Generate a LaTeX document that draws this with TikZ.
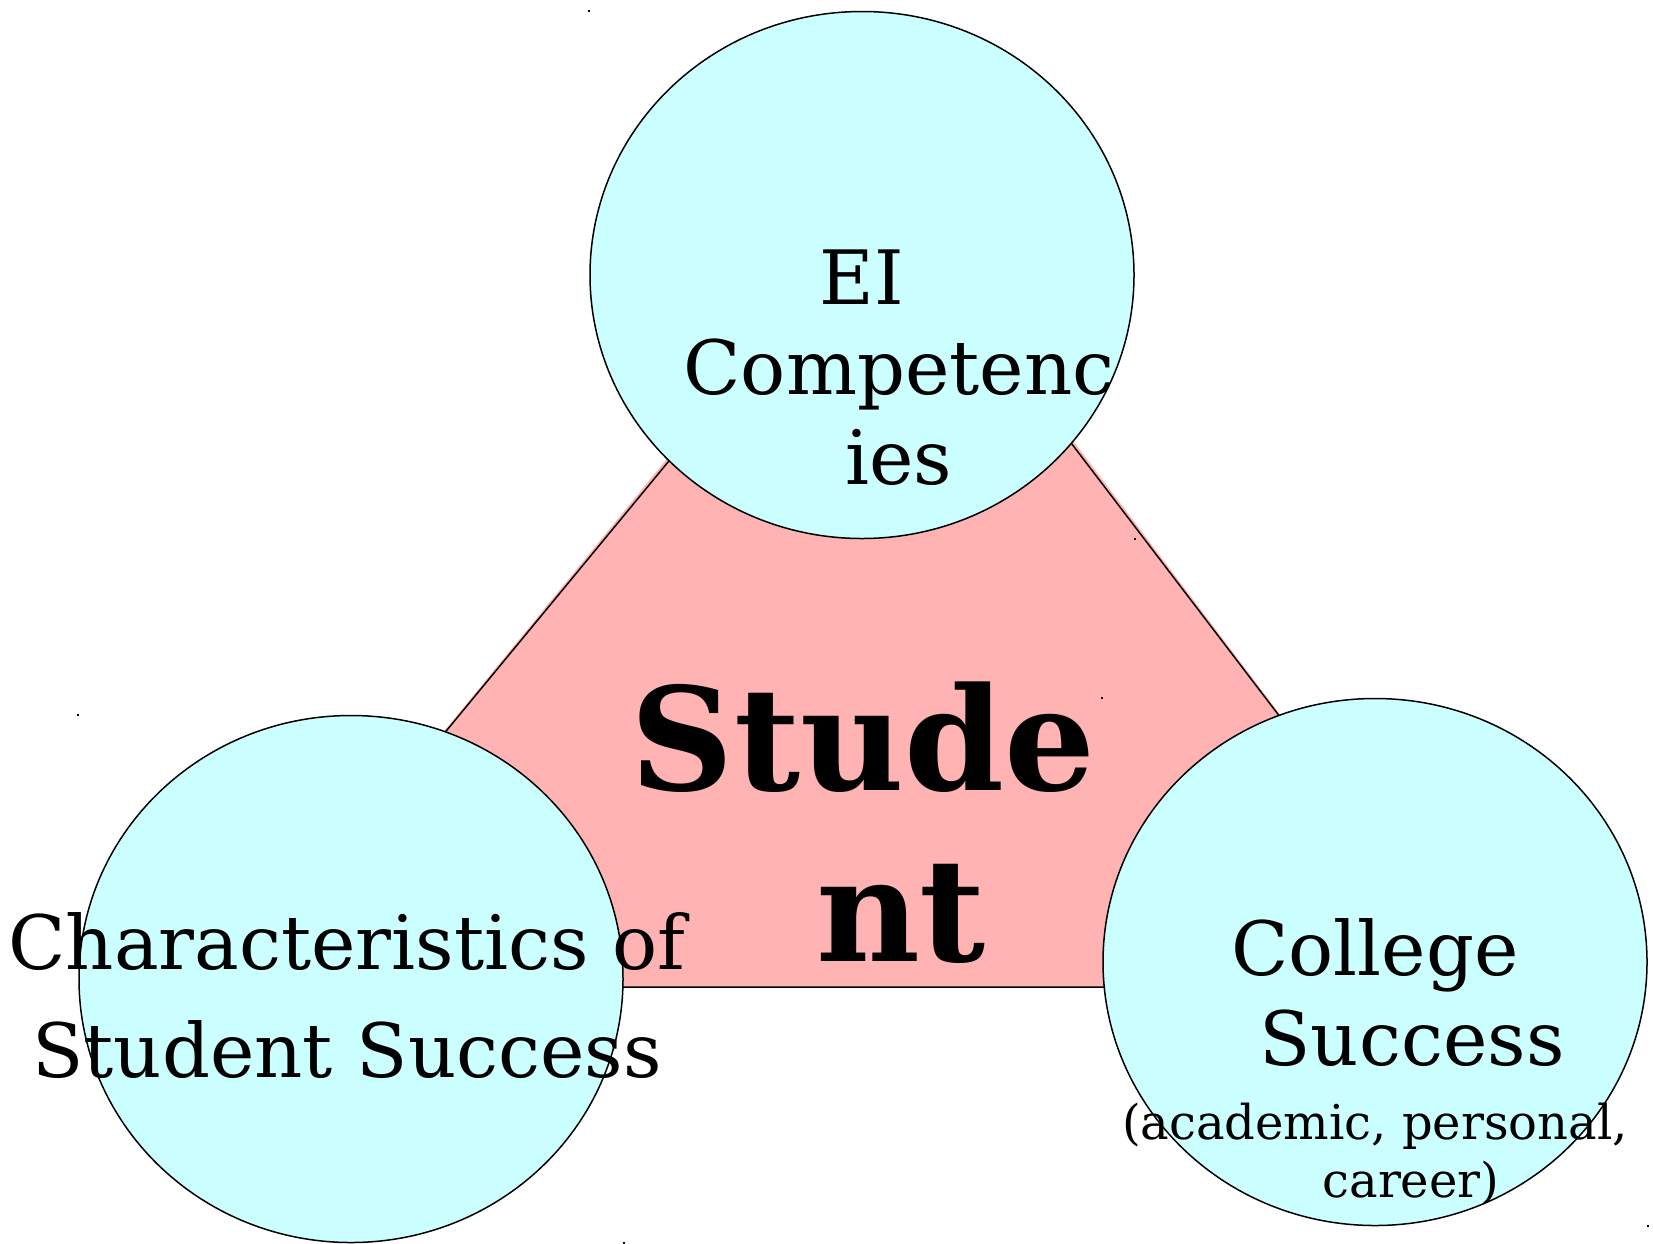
\documentclass[tikz,border=0pt]{standalone}
\usepackage{fontspec}
\setmainfont{DejaVu Serif}
\usetikzlibrary{shapes.geometric}
\definecolor{hubpink}{RGB}{255,179,179}
\definecolor{ringcyan}{RGB}{204,255,255}
\begin{document}
\begin{tikzpicture}[x=1pt, y=-1pt,
  ring/.style={ellipse, draw, fill=ringcyan, line width=1.5pt, minimum width=544pt, minimum height=527pt, inner sep=0pt},
  big/.style={font=\fontsize{75}{90}\selectfont, anchor=base, inner sep=0pt},
  small/.style={font=\fontsize{48}{58}\selectfont, anchor=base, inner sep=0pt},
  hub/.style={font=\fontsize{143}{170}\selectfont\bfseries, anchor=base, inner sep=0pt}]
\useasboundingbox (0,0) rectangle (1653,1243);
% the student triangle, sitting behind the three circles
\coordinate (apexfill) at (885,192);
\coordinate (apex) at (885,199);
\coordinate (baseL) at (235,987);
\coordinate (baseR) at (1486,987);
\fill[hubpink] (apexfill) -- (baseL) -- (baseR) -- cycle;
\draw[line width=1.5pt] (apex) -- (baseL) -- (baseR) -- cycle;
\node[hub] (stu1) at (863,790) {Stude};
\node[hub] (stu2) at (901,961) {nt};
% circles
\node[ring] (ei) at (862,275) {};
\node[ring] (chars) at (351,979) {};
\node[ring] (coll) at (1375,962) {};
% corner marks of the circle frames
\foreach \c in {ei,chars,coll} {
  \fill (\c.west |- \c.north) ++(-1,-1) rectangle ++(2,2);
  \fill (\c.east |- \c.south) ++(-1,-1) rectangle ++(2,2);
}
% circle texts
\node[big] (ei1) at (862,304) {EI};
\node[big] (ei2) at (899,394) {Competenc};
\node[big] (ei3) at (899,484) {ies};
\node[big] (ch1) at (347,969) {Characteristics of};
\node[big] (ch2) at (347,1077) {Student Success};
\node[big] (co1) at (1375,975) {College};
\node[big] (co2) at (1412,1065) {Success};
\node[small] (co3) at (1375,1139) {(academic, personal,};
\node[small] (co4) at (1411,1197) {career)};
\end{tikzpicture}
\end{document}
